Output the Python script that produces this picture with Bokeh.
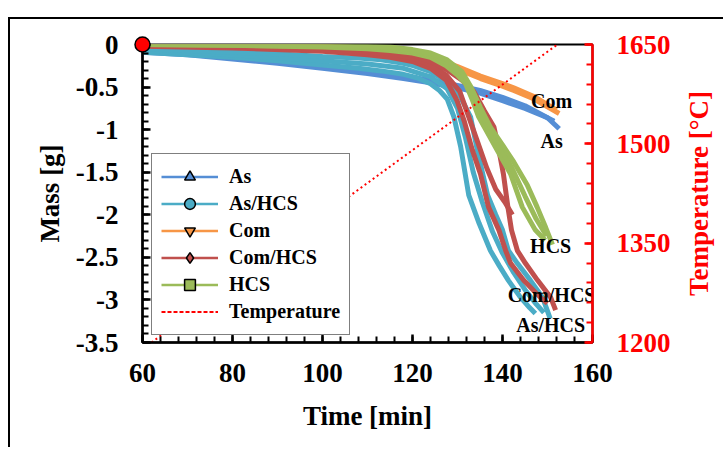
import math
from bokeh.plotting import figure
from bokeh.models import Range1d, LinearAxis, FixedTicker, NumeralTickFormatter, Legend, LegendItem
from bokeh.core.properties import value
from bokeh.embed import file_html
from bokeh.resources import INLINE

FONT = "Liberation Serif"
NAN = float("nan")

# ---------------- data ----------------
# As (blue) replicates
as_t1 = [60, 70, 80, 90, 100, 110, 118, 124, 130, 135, 140, 145, 150, 152.6]
as_m1 = [-0.07, -0.10, -0.14, -0.19, -0.25, -0.31, -0.37, -0.42, -0.48, -0.54, -0.62, -0.72, -0.86, -0.99]
as_t2 = [60, 70, 80, 90, 100, 110, 118, 124, 130, 135, 140, 145, 150, 151.5]
as_m2 = [-0.09, -0.12, -0.17, -0.22, -0.28, -0.34, -0.40, -0.45, -0.51, -0.57, -0.66, -0.75, -0.86, -0.90]

# As/HCS (teal) replicates
ash_t1 = [60, 70, 80, 90, 100, 108, 113, 118, 121, 124, 126, 127.7, 129.2, 130.7, 132.5, 134.8, 137.3, 139.3, 141.3, 144, 146, 147.3]
ash_m1 = [-0.09, -0.12, -0.15, -0.19, -0.24, -0.28, -0.31, -0.35, -0.39, -0.46, -0.54, -0.64, -0.85, -1.2, -1.77, -2.1, -2.42, -2.6, -2.77, -2.97, -3.09, -3.16]
ash_t2 = [60, 70, 80, 90, 100, 108, 113, 118, 120.3, 124, 127.7, 130.7, 132.9, 134.4, 136.7, 138.5, 140, 141.3, 143.3, 146.2, 148.9, 150.6]
ash_m2 = [-0.05, -0.07, -0.09, -0.11, -0.14, -0.16, -0.18, -0.22, -0.25, -0.32, -0.44, -0.62, -0.85, -1.24, -1.77, -2.0, -2.18, -2.42, -2.57, -2.77, -2.97, -3.22]
ash_t3 = [60, 80, 100, 110, 118, 124, 127.7, 130, 131.8, 133.5, 135.5, 137.8, 140, 142.5, 145, 147.5, 149.2]
ash_m3 = [-0.07, -0.12, -0.19, -0.23, -0.28, -0.38, -0.52, -0.75, -1.1, -1.5, -1.85, -2.2, -2.45, -2.68, -2.88, -3.05, -3.15]

# Com (orange) replicates
com_t1 = [60, 80, 100, 110, 115, 120, 125.5, 130, 135.1, 140, 142.5, 147, 152.6]
com_m1 = [0.0, -0.01, -0.03, -0.05, -0.08, -0.12, -0.19, -0.29, -0.40, -0.49, -0.54, -0.64, -0.81]
com_t2 = [60, 80, 100, 110, 115, 120, 125.5, 130, 135.1, 140, 142.5, 147, 152.0]
com_m2 = [0.0, -0.01, -0.02, -0.04, -0.06, -0.10, -0.17, -0.26, -0.37, -0.46, -0.51, -0.61, -0.77]

# Com/HCS (red) replicates
comh_t1 = [60, 80, 100, 110, 115, 120, 124, 127.5, 129.9, 131.5, 133.3, 135.1, 136.9, 139.2, 140.7, 141.8, 144.7, 148.4, 150]
comh_m1 = [-0.02, -0.04, -0.08, -0.12, -0.15, -0.20, -0.28, -0.42, -0.66, -0.9, -1.24, -1.52, -1.91, -2.18, -2.42, -2.57, -2.77, -2.97, -3.04]
comh_t2 = [60, 80, 100, 110, 115, 120.3, 124, 127.7, 131, 133.6, 136, 138.1, 139.2, 140.2, 141.2, 142, 143.3, 145.1, 147.8, 150.7, 151.8]
comh_m2 = [0.0, -0.02, -0.04, -0.06, -0.08, -0.13, -0.2, -0.3, -0.42, -0.55, -0.78, -0.97, -1.24, -1.52, -1.91, -2.18, -2.42, -2.57, -2.77, -2.97, -3.12]
comh_t3 = [60, 80, 100, 110, 115, 120, 124, 127.5, 130.5, 132.5, 134.5, 136.5, 138.5, 140.5, 142.2]
comh_m3 = [-0.01, -0.03, -0.06, -0.09, -0.11, -0.16, -0.24, -0.36, -0.55, -0.85, -1.15, -1.45, -1.7, -1.85, -2.0]

# HCS (green) replicates
hcs_t1 = [60, 80, 100, 110, 115, 120, 124, 127.5, 130, 131.8, 133.3, 134.7, 136.8, 138.8, 141.8, 144.4, 147.3, 149.5]
hcs_m1 = [0.0, -0.01, -0.03, -0.05, -0.07, -0.1, -0.15, -0.25, -0.36, -0.46, -0.65, -0.85, -1.05, -1.24, -1.52, -1.91, -2.18, -2.3]
hcs_t2 = [60, 80, 100, 110, 115, 120, 124, 127.7, 131, 133, 135.1, 137.3, 140, 142.5, 145.5, 147.7, 149.6, 151.1]
hcs_m2 = [0.0, 0.0, -0.01, -0.02, -0.03, -0.06, -0.1, -0.18, -0.32, -0.5, -0.74, -0.97, -1.18, -1.38, -1.65, -1.91, -2.15, -2.35]
hcs_t3 = [60, 80, 100, 110, 115, 120, 124, 127.6, 130.5, 132.4, 134.9, 137, 139.4, 142.1, 145, 147.5, 149.8]
hcs_m3 = [0.0, -0.01, -0.02, -0.03, -0.05, -0.08, -0.12, -0.21, -0.34, -0.48, -0.78, -1.0, -1.2, -1.45, -1.78, -2.05, -2.25]

# Temperature (right axis)
temp_t = [62, 107, 152.2]
temp_c = [1200, 1426, 1650]

# starting point marker
start_t = [60]
start_m = [0]

# curve end labels
label_text = ["Com", "As", "HCS", "Com/HCS", "As/HCS"]
label_x = [150.9, 150.9, 150.7, 150.9, 150.7]
label_y = [-0.66, -1.13, -2.37, -2.94, -3.29]

series_names = ["As", "As/HCS", "Com", "Com/HCS", "HCS"]
series_colors = ["#558ED5", "#4BACC6", "#F79646", "#C0504D", "#9BBB59"]
series_markers = ["triangle", "circle", "inverted_triangle", "diamond", "square"]

x_ticks = [60, 80, 100, 120, 140, 160]
y_ticks = [-3.5, -3, -2.5, -2, -1.5, -1, -0.5, 0]
t_ticks = [1200, 1350, 1500, 1650]

# ---------------- figure ----------------
p = figure(width=715, height=430, x_range=Range1d(60, 160), y_range=Range1d(-3.5, 0),
           output_backend="svg", toolbar_location=None,
           min_border_left=132, min_border_right=133, min_border_top=25, min_border_bottom=107)
p.styles = {"margin-left": "8px", "margin-top": "17px",
            "border-left": "2px solid black", "border-top": "2px solid black"}
p.xgrid.visible = False
p.ygrid.visible = False
p.outline_line_color = "black"
p.outline_line_width = 2
p.background_fill_color = "white"
p.border_fill_color = "white"

p.extra_y_ranges = {"temp": Range1d(1200, 1650)}

LW = 5
groups = [
    ("#F79646", [(com_t1, com_m1), (com_t2, com_m2)]),
    ("#558ED5", [(as_t1, as_m1), (as_t2, as_m2)]),
    ("#4BACC6", [(ash_t1, ash_m1), (ash_t3, ash_m3), (ash_t2, ash_m2)]),
    ("#C0504D", [(comh_t1, comh_m1), (comh_t3, comh_m3), (comh_t2, comh_m2)]),
    ("#9BBB59", [(hcs_t1, hcs_m1), (hcs_t3, hcs_m3), (hcs_t2, hcs_m2)]),
]
for color, reps in groups:
    for t, m in reps:
        p.line(t, m, line_color=color, line_width=LW)

p.line(temp_t, temp_c, y_range_name="temp", line_color="red", line_width=2, line_dash="2 3")

p.text(x=label_x, y=label_y, text=label_text, text_font=value(FONT), text_font_style="bold",
       text_font_size="20px", text_align="center", text_baseline="middle", text_color="black")

p.scatter(start_t, start_m, marker="circle", size=15, fill_color="red", line_color="black",
          line_width=1.5, level="overlay")

# ---------------- axes ----------------
def style_axis(ax, color="black"):
    ax.axis_line_color = color
    ax.axis_line_width = 2.5
    ax.major_tick_line_color = color
    ax.minor_tick_line_color = color
    ax.major_tick_line_width = 2.5
    ax.minor_tick_line_width = 2
    ax.major_tick_in = 8
    ax.major_tick_out = 0
    ax.minor_tick_in = 6
    ax.minor_tick_out = 0
    ax.major_label_text_font = FONT
    ax.major_label_text_font_style = "bold"
    ax.major_label_text_font_size = "27px"
    ax.major_label_text_color = color
    ax.axis_label_text_font = FONT
    ax.axis_label_text_font_style = "bold"
    ax.axis_label_text_font_size = "27px"
    ax.axis_label_text_color = color

xa = p.xaxis[0]
style_axis(xa)
xa.ticker = FixedTicker(ticks=x_ticks, minor_ticks=list(range(60, 161, 4)))
xa.axis_label = "Time [min]"
xa.major_label_standoff = 21
xa.axis_label_standoff = 16

ya = p.yaxis[0]
style_axis(ya)
ya.ticker = FixedTicker(ticks=y_ticks, minor_ticks=[-3.5 + 0.1 * i for i in range(36)])
ya.formatter = NumeralTickFormatter(format="0.[0]")
ya.axis_label = "Mass [g]"
ya.major_label_standoff = 24
ya.axis_label_standoff = 8

ra = LinearAxis(y_range_name="temp")
style_axis(ra, "red")
ra.ticker = FixedTicker(ticks=t_ticks, minor_ticks=list(range(1200, 1651, 30)))
ra.major_label_standoff = 24
p.add_layout(ra, "right")

# right axis title, drawn as an unclipped overlay text reading bottom-to-top
p.text(x=[160], y=[-1.75], text=["Temperature [°C]"], x_offset=106, angle=math.pi / 2,
       text_align="center", text_baseline="middle", text_color="red",
       text_font=value(FONT), text_font_style="bold", text_font_size="27px", level="overlay")

# ---------------- legend ----------------
items = []
for name, color, marker in zip(series_names, series_colors, series_markers):
    lr = p.line([NAN], [NAN], line_color=color, line_width=2.5)
    sr = p.scatter([NAN], [NAN], marker=marker, fill_color=color, line_color="black",
                   line_width=1.5, size=20)
    items.append(LegendItem(label=name, renderers=[lr, sr]))
tl = p.line([NAN], [NAN], line_color="red", line_width=2, line_dash="4 2")
items.append(LegendItem(label="Temperature", renderers=[tl]))

legend = Legend(items=items, location=(9, 7), orientation="vertical",
                border_line_color="black", border_line_width=1,
                background_fill_color="white", background_fill_alpha=1,
                label_text_font=FONT, label_text_font_style="bold", label_text_font_size="20px",
                label_text_color="black",
                glyph_width=57, glyph_height=27, spacing=0, padding=9, margin=0,
                label_standoff=11)
p.add_layout(legend)

open("out.html", "w").write(file_html(p, INLINE))
